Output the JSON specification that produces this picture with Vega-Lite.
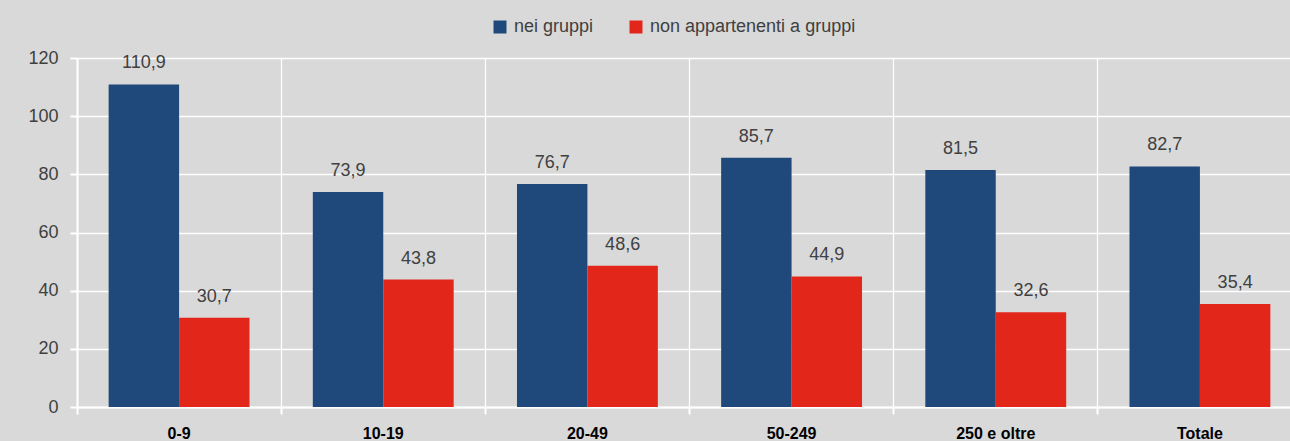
{
  "$schema": "https://vega.github.io/schema/vega-lite/v6.json",
  "autosize": "none",
  "width": 1225,
  "height": 349,
  "padding": {"left": 77, "top": 58, "right": 0, "bottom": 34},
  "background": "#d9d9d9",
  "data": {"values": [
    {"classe": "0-9", "serie": "nei gruppi", "valore": 110.9},
    {"classe": "0-9", "serie": "non appartenenti a gruppi", "valore": 30.7},
    {"classe": "10-19", "serie": "nei gruppi", "valore": 73.9},
    {"classe": "10-19", "serie": "non appartenenti a gruppi", "valore": 43.8},
    {"classe": "20-49", "serie": "nei gruppi", "valore": 76.7},
    {"classe": "20-49", "serie": "non appartenenti a gruppi", "valore": 48.6},
    {"classe": "50-249", "serie": "nei gruppi", "valore": 85.7},
    {"classe": "50-249", "serie": "non appartenenti a gruppi", "valore": 44.9},
    {"classe": "250 e oltre", "serie": "nei gruppi", "valore": 81.5},
    {"classe": "250 e oltre", "serie": "non appartenenti a gruppi", "valore": 32.6},
    {"classe": "Totale", "serie": "nei gruppi", "valore": 82.7},
    {"classe": "Totale", "serie": "non appartenenti a gruppi", "valore": 35.4}
  ]},
  "encoding": {
    "x": {"field": "classe", "type": "nominal", "sort": null,
      "scale": {"paddingInner": 0.31, "paddingOuter": 0.155},
      "axis": {"title": null, "labelAngle": 0, "labelFontWeight": "bold", "labelColor": "#000000", "labelFontSize": 16, "labelPadding": 11, "grid": true, "bandPosition": -0.224, "gridColor": "#ffffff", "gridWidth": 1.3, "domainColor": "#ffffff", "domainWidth": 2, "tickColor": "#ffffff", "tickWidth": 2, "tickSize": 7}},
    "xOffset": {"field": "serie", "type": "nominal", "sort": null},
    "y": {"field": "valore", "type": "quantitative",
      "scale": {"domain": [0, 120], "nice": false},
      "axis": {"title": null, "values": [0, 20, 40, 60, 80, 100, 120], "labelColor": "#404040", "labelFontSize": 18, "labelPadding": 12, "gridColor": "#ffffff", "gridWidth": 1.3, "domainColor": "#ffffff", "domainWidth": 2, "tickColor": "#ffffff", "tickWidth": 2, "tickSize": 7}}
  },
  "layer": [
    {"mark": {"type": "bar"},
      "encoding": {"color": {"field": "serie", "type": "nominal", "sort": null,
        "scale": {"domain": ["nei gruppi", "non appartenenti a gruppi"], "range": ["#1f487b", "#e3261a"]},
        "legend": {"title": null, "orient": "none", "direction": "horizontal", "legendX": 414, "legendY": -40, "symbolType": "square", "symbolSize": 169, "symbolStrokeWidth": 0, "labelFontSize": 18, "labelColor": "#404040", "labelLimit": 400, "columnPadding": 33, "labelOffset": 5}}}},
    {"mark": {"type": "text", "baseline": "alphabetic", "dy": -16, "fontSize": 18, "color": "#404040"},
      "encoding": {"text": {"field": "valore", "type": "quantitative", "format": ".1f"}}}
  ],
  "config": {
    "font": "Liberation Sans",
    "view": {"stroke": null},
    "locale": {"number": {"decimal": ",", "thousands": ".", "grouping": [3], "currency": ["", " €"]}}
  }
}
